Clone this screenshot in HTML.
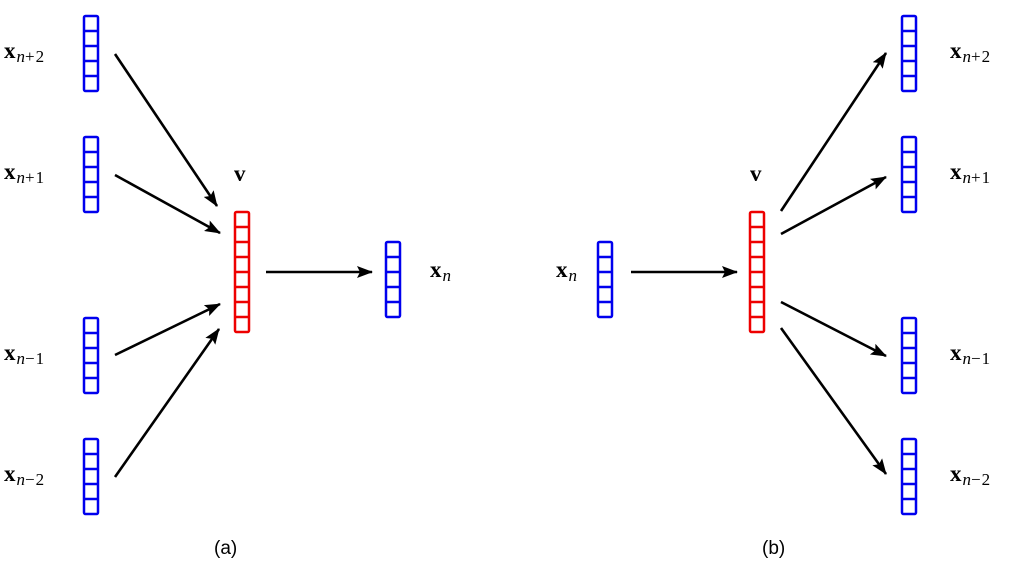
<!DOCTYPE html>
<html><head><meta charset="utf-8"><style>
html,body{margin:0;padding:0;background:#fff}
svg{display:block}
.x{font-family:"Liberation Serif",serif;font-weight:bold;font-size:23px}
.s{font-family:"Liberation Serif",serif;font-style:italic;font-weight:normal;font-size:17px}
.r{font-family:"Liberation Serif",serif;font-style:normal;font-weight:normal;font-size:17px;letter-spacing:1px}
.c{font-family:"Liberation Sans",sans-serif;font-size:19px}
</style></head><body>
<svg width="1013" height="562" viewBox="0 0 1013 562" xmlns="http://www.w3.org/2000/svg">
<defs>
<g id="b" fill="none" stroke="#0000ee" stroke-width="2.5">
<rect x="0" y="0" width="14" height="75" rx="1.5"/>
<path d="M0 15H14M0 30H14M0 45H14M0 60H14"/>
</g>
<g id="rd" fill="none" stroke="#ee0000" stroke-width="2.5">
<rect x="0" y="0" width="14" height="120" rx="1.5"/>
<path d="M0 15H14M0 30H14M0 45H14M0 60H14M0 75H14M0 90H14M0 105H14"/>
</g>
<marker id="a" markerWidth="16" markerHeight="12" refX="15" refY="6" orient="auto" markerUnits="userSpaceOnUse" viewBox="0 0 16 12">
<path d="M0 0L16 6L0 12L3 6z" fill="#000"/>
</marker>
</defs>
<use href="#b" x="84" y="16"/><use href="#b" x="84" y="137"/>
<use href="#b" x="84" y="318"/><use href="#b" x="84" y="439"/>
<use href="#rd" x="235" y="212"/>
<use href="#b" x="386" y="242"/>
<g stroke="#000" stroke-width="2.6" marker-end="url(#a)">
<line x1="115" y1="54" x2="217" y2="206"/>
<line x1="115" y1="175" x2="220" y2="233"/>
<line x1="115" y1="355" x2="220" y2="304"/>
<line x1="115" y1="477" x2="219" y2="329"/>
<line x1="266" y1="272" x2="372" y2="272"/>
<line x1="631" y1="272" x2="737" y2="272"/>
<line x1="781" y1="211" x2="886" y2="53"/>
<line x1="781" y1="234" x2="886" y2="177"/>
<line x1="781" y1="302" x2="886" y2="356"/>
<line x1="781" y1="328" x2="886" y2="474"/>
</g>
<use href="#b" x="598" y="242"/>
<use href="#rd" x="750" y="212"/>
<use href="#b" x="902" y="16"/><use href="#b" x="902" y="137"/>
<use href="#b" x="902" y="318"/><use href="#b" x="902" y="439"/>
<text class="x" x="4" y="58">x<tspan class="s" dy="4" dx="1">n</tspan><tspan class="r">+2</tspan></text>
<text class="x" x="4" y="179">x<tspan class="s" dy="4" dx="1">n</tspan><tspan class="r">+1</tspan></text>
<text class="x" x="4" y="360">x<tspan class="s" dy="4" dx="1">n</tspan><tspan class="r">−1</tspan></text>
<text class="x" x="4" y="481">x<tspan class="s" dy="4" dx="1">n</tspan><tspan class="r">−2</tspan></text>
<text class="x" x="234" y="181">v</text>
<text class="x" x="430" y="277">x<tspan class="s" dy="4" dx="1">n</tspan></text>
<text class="x" x="556" y="277">x<tspan class="s" dy="4" dx="1">n</tspan></text>
<text class="x" x="750" y="181">v</text>
<text class="x" x="950" y="58">x<tspan class="s" dy="4" dx="1">n</tspan><tspan class="r">+2</tspan></text>
<text class="x" x="950" y="179">x<tspan class="s" dy="4" dx="1">n</tspan><tspan class="r">+1</tspan></text>
<text class="x" x="950" y="360">x<tspan class="s" dy="4" dx="1">n</tspan><tspan class="r">−1</tspan></text>
<text class="x" x="950" y="481">x<tspan class="s" dy="4" dx="1">n</tspan><tspan class="r">−2</tspan></text>
<text class="c" x="214" y="554">(a)</text>
<text class="c" x="762" y="554">(b)</text>
</svg>
</body></html>
